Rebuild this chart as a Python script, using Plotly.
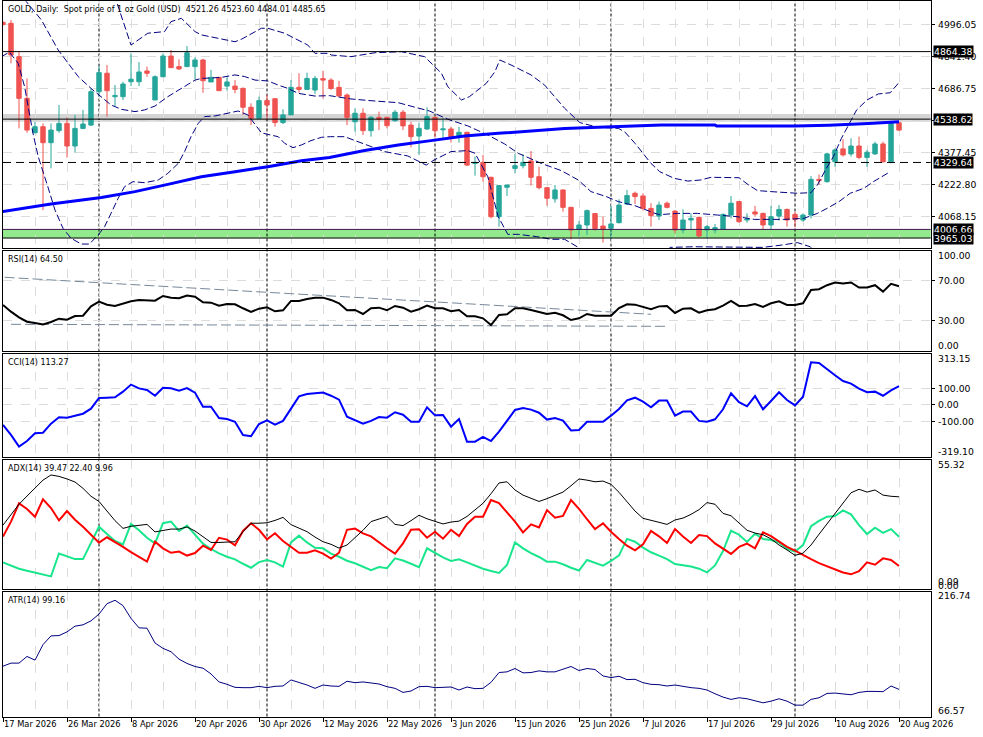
import plotly.graph_objects as go

W, H = 983, 737

# ---------------- data ----------------
date_labels = ["17 Mar 2026", "26 Mar 2026", "8 Apr 2026", "20 Apr 2026", "30 Apr 2026",
               "12 May 2026", "22 May 2026", "3 Jun 2026", "15 Jun 2026", "25 Jun 2026",
               "7 Jul 2026", "17 Jul 2026", "29 Jul 2026", "10 Aug 2026", "20 Aug 2026"]
date_label_idx = [0, 8, 16, 24, 32, 40, 48, 56, 64, 72, 80, 88, 96, 104, 112]
month_sep_idx = [12, 33, 54, 76, 99]
grid_idx = list(range(0, 113, 4))

opens = [5005, 5001, 4840, 4639, 4473, 4502, 4425, 4483, 4518, 4409,
         4494, 4510, 4671, 4760, 4647, 4647, 4719, 4719, 4771, 4631,
         4743, 4843, 4792, 4792, 4792, 4824, 4718, 4740, 4698, 4698,
         4687, 4596, 4543, 4628, 4637, 4522, 4559, 4692, 4682, 4679,
         4734, 4727, 4692, 4655, 4526, 4567, 4483, 4547, 4547, 4531,
         4572, 4510, 4457, 4491, 4547, 4487, 4491, 4454, 4475, 4325,
         4330, 4258, 4068, 4210, 4301, 4314, 4337, 4261, 4208, 4154,
         4197, 4113, 4007, 4028, 4083, 4023, 4012, 4039, 4129, 4181,
         4168, 4108, 4071, 4133, 4095, 4004, 4052, 4065, 4004, 4004,
         4007, 4076, 4141, 4052, 4091, 4084, 4028, 4071, 4103, 4079,
         4052, 4076, 4248, 4237, 4333, 4395, 4371, 4409, 4354, 4371,
         4419, 4333, 4521.26]
highs = [5012, 5017, 4864, 4735, 4526, 4518, 4518, 4607, 4547, 4559,
         4583, 4687, 4795, 4800, 4703, 4719, 4856, 4814, 4792, 4750,
         4856, 4872, 4827, 4891, 4837, 4830, 4776, 4743, 4740, 4727,
         4692, 4615, 4647, 4655, 4640, 4586, 4727, 4760, 4763, 4747,
         4772, 4736, 4724, 4663, 4591, 4591, 4554, 4575, 4551, 4583,
         4583, 4526, 4522, 4596, 4551, 4543, 4502, 4502, 4478, 4358,
         4366, 4261, 4221, 4221, 4371, 4369, 4385, 4309, 4208, 4221,
         4200, 4116, 4047, 4103, 4084, 4068, 4120, 4152, 4197, 4189,
         4181, 4133, 4141, 4141, 4100, 4103, 4084, 4068, 4028, 4033,
         4084, 4168, 4144, 4084, 4120, 4087, 4120, 4124, 4108, 4092,
         4084, 4264, 4272, 4377, 4398, 4441, 4446, 4454, 4390, 4430,
         4430, 4526, 4523.60]
lows = [4990, 4808, 4494, 4473, 4470, 4100, 4301, 4473, 4353, 4377,
        4490, 4505, 4647, 4551, 4602, 4631, 4698, 4698, 4743, 4631,
        4743, 4787, 4776, 4792, 4731, 4666, 4718, 4676, 4676, 4663,
        4559, 4510, 4538, 4538, 4502, 4515, 4559, 4666, 4679, 4660,
        4639, 4679, 4647, 4510, 4478, 4462, 4454, 4486, 4494, 4526,
        4486, 4403, 4366, 4486, 4451, 4446, 4425, 4425, 4313, 4266,
        4237, 4060, 4020, 4168, 4277, 4301, 4218, 4200, 4121, 4136,
        4092, 3959, 3972, 3980, 4001, 3943, 3959, 4036, 4124, 4129,
        4097, 4020, 4052, 4108, 3988, 3988, 4004, 3969, 3964, 3988,
        4004, 4060, 4039, 4039, 4068, 4004, 4004, 4049, 4020, 4017,
        4044, 4060, 4221, 4232, 4309, 4358, 4358, 4345, 4309, 4366,
        4329, 4325, 4484.01]
closes = [4995, 4848, 4639, 4486, 4502, 4425, 4486, 4518, 4409, 4494,
          4515, 4671, 4763, 4676, 4653, 4708, 4731, 4766, 4760, 4743,
          4843, 4787, 4781, 4859, 4824, 4724, 4740, 4676, 4718, 4682,
          4596, 4543, 4628, 4607, 4522, 4559, 4692, 4682, 4735, 4735,
          4727, 4687, 4650, 4547, 4567, 4483, 4547, 4538, 4507, 4572,
          4506, 4454, 4494, 4551, 4483, 4492, 4449, 4475, 4317, 4330,
          4261, 4068, 4218, 4221, 4314, 4330, 4258, 4208, 4157, 4197,
          4113, 4004, 4028, 4097, 4010, 4007, 4033, 4124, 4170, 4165,
          4108, 4073, 4124, 4113, 4004, 4052, 4060, 3975, 4020, 4015,
          4079, 4133, 4044, 4057, 4081, 4028, 4068, 4103, 4052, 4055,
          4076, 4248, 4242, 4371, 4390, 4366, 4409, 4354, 4379, 4419,
          4333, 4522, 4485.65]

# Bollinger bands (bar index, price)
bb_upper_x = [13.9, 16.0, 18.1, 20.2, 21.0, 22.3, 24.0, 24.8, 29.0, 29.8, 32.3, 33.1, 35.2,
              36.5, 38.1, 39.0, 40.8, 41.0, 43.5, 46.5, 49.8, 52.7, 53.5, 54.8, 55.6, 57.3,
              58.3, 60.4, 61.5, 62.1, 63.5, 66.0, 67.7, 70.2, 72.1, 74.4, 76.9, 77.7, 79.0,
              81.0, 82.1, 83.9, 85.6, 87.2, 88.5, 92.0, 93.2, 94.3, 96.0, 99.3, 101.0, 101.8,
              102.8, 103.8, 104.8, 105.7, 106.7, 108.0, 109.4, 110.9, 111.9]
bb_upper_y = [5140, 4896, 4953, 4961, 5009, 5025, 4961, 4945, 4912, 4924, 4977, 4977, 4953,
              4928, 4896, 4856, 4856, 4848, 4840, 4859, 4864, 4840, 4811, 4760, 4695, 4631,
              4647, 4711, 4768, 4824, 4800, 4752, 4703, 4591, 4522, 4499, 4494, 4478, 4422,
              4325, 4285, 4253, 4240, 4245, 4258, 4256, 4221, 4194, 4189, 4181, 4184, 4221,
              4293, 4358, 4446, 4510, 4583, 4631, 4660, 4666, 4711]
bb_mid_x = [2.6, 3.1, 4.8, 6.9, 9.4, 11.0, 12.3, 13.5, 14.8, 16.5, 17.7, 19.0, 20.6, 22.3,
            24.0, 24.8, 27.3, 29.0, 30.2, 31.5, 33.1, 34.4, 35.6, 36.9, 39.0, 40.8, 43.5,
            46.5, 49.4, 51.5, 53.3, 55.6, 58.1, 60.6, 62.7, 64.4, 67.3, 69.8, 71.9, 73.5,
            75.4, 76.9, 79.0, 81.5, 82.1, 84.3, 86.8, 89.3, 91.8, 93.9, 97.6, 100.1, 101.8,
            103.0, 104.5, 105.9, 107.6, 108.8, 110.9]
bb_mid_y = [5120, 5097, 5017, 4872, 4744, 4687, 4647, 4607, 4586, 4575, 4583, 4602, 4647, 4687,
            4727, 4735, 4740, 4752, 4744, 4727, 4723, 4703, 4687, 4663, 4650, 4652, 4636,
            4626, 4618, 4596, 4578, 4538, 4506, 4462, 4419, 4374, 4325, 4290, 4245, 4189,
            4165, 4141, 4121, 4084, 4078, 4084, 4084, 4076, 4068, 4055, 4055, 4060, 4084,
            4108, 4141, 4181, 4205, 4237, 4285]
bb_lower_x = [-0.2, 0.8, 1.9, 2.7, 3.75, 4.4, 5.6, 6.5, 7.5, 8.5, 9.8, 10.8, 11.9, 12.7, 13.5,
              14.4, 15.2, 16.25, 17.7, 19.4, 20.6, 21.9, 22.7, 23.5, 24.4, 25.2, 26.5, 28.1,
              29.4, 30.6, 31.5, 32.3, 33.1, 34.4, 35.2, 36.25, 37.3, 38.5, 39.8, 40.9, 42.7,
              45.2, 47.7, 50.6, 52.9, 53.9, 56.0, 58.1, 59.0, 60.6, 61.9, 63.1, 64.4, 66.7,
              68.5, 70.2, 72.1, 73.0, None, 83.0, 83.4, 86.3, 92.5, 95.0, 97.3, 99.3, 100.9,
              101.5]
bb_lower_y = [4840, 4862, 4808, 4695, 4470, 4358, 4213, 4100, 4012, 3964, 3936, 3936, 3980,
              4020, 4084, 4157, 4213, 4237, 4232, 4245, 4277, 4325, 4382, 4454, 4518, 4551,
              4554, 4567, 4578, 4559, 4515, 4473, 4465, 4454, 4422, 4401, 4414, 4435, 4451,
              4454, 4454, 4419, 4382, 4361, 4317, 4342, 4382, 4387, 4374, 4261, 4068, 3983,
              3983, 3972, 3959, 3959, 3915, 3895, None, 3905, 3920, 3923, 3920, 3920, 3931,
              3943, 3923, 3900]

# long moving average (thick blue line)
ma_x = [-0.2, 6.0, 12.3, 16.5, 20.6, 24.8, 29.0, 33.1, 37.3, 40.8, 45.2, 49.4, 53.5, 57.7,
        61.9, 66.0, 70.2, 74.4, 78.5, 82.3, 89.0, 89.2, 99.0, 103.2, 108.2, 112.0]
ma_y = [4092, 4129, 4161, 4189, 4224, 4261, 4285, 4309, 4338, 4354, 4387, 4414, 4435, 4457,
        4470, 4483, 4494, 4499, 4505, 4510, 4510, 4505, 4505, 4509, 4518, 4526]

levels_solid = [4864.38, 4538.62]
level_dashed = 4329.64
grey_zone = [4526, 4563]
green_zone = [3965.03, 4006.66]
price_ticks = [4996.05, 4841.40, 4686.75, 4532.10, 4377.45, 4222.80, 4068.15]
price_tick_labels = ["4996.05", "4841.40", "4686.75", "", "4377.45", "4222.80", "4068.15"]
price_tags = [4864.38, 4538.62, 4329.64, 4006.66, 3965.03]

rsi = [45.9, 39.2, 33.5, 29.2, 27.9, 26.5, 28.9, 32.2, 31.2, 34.9,
       35.2, 44.5, 49.2, 46.2, 44.9, 47.2, 49.5, 50.9, 50.9, 50.2,
       54.9, 53.2, 52.6, 55.2, 54.2, 48.6, 48.2, 45.2, 46.9, 46.6,
       42.6, 38.9, 42.2, 43.6, 39.6, 40.6, 49.9, 49.9, 51.9, 53.2,
       53.2, 50.9, 47.6, 40.6, 40.9, 36.9, 42.6, 43.2, 40.6, 44.9,
       43.2, 39.2, 41.6, 45.2, 42.6, 42.6, 39.6, 40.9, 34.6, 34.6,
       32.6, 25.9, 35.9, 36.6, 42.6, 42.6, 40.9, 38.9, 36.9, 38.2,
       35.6, 30.9, 32.6, 36.9, 35.2, 35.2, 35.2, 42.9, 46.6, 46.2,
       43.6, 41.6, 44.5, 44.9, 37.9, 42.2, 42.6, 38.2, 40.6, 41.6,
       45.2, 49.9, 44.9, 45.2, 46.9, 43.9, 47.6, 49.5, 45.9, 45.9,
       47.6, 60.9, 61.6, 65.6, 68.3, 67.3, 68.3, 63.3, 63.3, 65.6,
       59.2, 66.9, 64.50]
rsi_trend_hi_x = [0.2, 81.0]
rsi_trend_hi_y = [73.5, 36.6]
rsi_trend_lo_x = [1.0, 83.1]
rsi_trend_lo_y = [26.6, 24.6]

cci = [-124, -185, -256, -222, -175, -171, -116, -77, -79, -67,
       -55, -24, 41, 43, 45, 80, 123, 100, 90, 55,
       104, 100, 86, 102, 74, -12, -12, -81, -87, -104,
       -185, -193, -118, -95, -122, -99, -24, 51, 66, 70,
       74, 55, 31, -73, -95, -116, -99, -75, -79, -46,
       -61, -104, -104, -16, -65, -63, -134, -87, -226, -226,
       -197, -222, -165, -99, -32, -20, -30, -49, -91, -81,
       -97, -157, -155, -104, -104, -104, -67, -26, 27, 43,
       19, -16, 25, 25, -67, -42, -42, -99, -104, -89,
       -28, 70, 15, -10, 53, -28, 23, 76, 29, -4,
       49, 259, 255, 216, 180, 145, 129, 98, 76, 80,
       55, 88, 113.27]

adx = [27.4, 32.0, 36.3, 39.8, 43.2, 46.6, 48.8, 48.2, 47.1, 45.8,
       43.1, 39.7, 37.5, 33.6, 29.3, 26.0, 26.9, 27.3, 27.7, 24.5,
       25.0, 25.7, 25.7, 26.6, 24.9, 22.5, 20.0, 20.0, 20.0, 20.3,
       24.6, 28.2, 28.2, 28.4, 29.4, 30.7, 27.6, 26.0, 24.6, 22.3,
       20.3, 19.2, 17.6, 18.9, 22.0, 25.2, 28.9, 30.1, 31.1, 27.7,
       27.2, 29.3, 31.6, 30.1, 28.9, 27.9, 28.7, 29.1, 31.1, 34.0,
       36.7, 40.8, 45.4, 45.9, 42.4, 40.2, 38.7, 37.5, 38.7, 40.0,
       41.5, 44.2, 47.1, 46.6, 45.9, 46.2, 44.8, 41.4, 37.4, 33.4,
       30.3, 29.6, 28.6, 27.7, 29.6, 30.4, 32.0, 34.0, 37.0, 36.3,
       32.4, 31.4, 28.3, 25.2, 24.0, 23.3, 21.5, 18.9, 16.8, 14.5,
       15.4, 18.9, 23.5, 28.0, 32.4, 37.0, 41.2, 42.7, 41.5, 42.4,
       40.2, 39.7, 39.47]
plus_di = [11.5, 10.2, 8.8, 7.9, 7.2, 6.4, 5.5, 15.3, 14.2, 12.9,
           12.9, 19.6, 26.7, 23.6, 20.6, 19.2, 27.9, 25.2, 22.0, 19.6,
           28.2, 28.9, 24.9, 27.2, 23.5, 19.5, 17.2, 15.3, 13.9, 12.8,
           10.9, 9.2, 11.6, 12.5, 11.5, 9.7, 20.0, 22.9, 20.0, 17.7,
           17.5, 15.2, 13.9, 12.2, 11.1, 9.5, 8.2, 9.5, 9.0, 13.2,
           12.3, 10.9, 9.4, 17.5, 15.6, 13.6, 12.1, 12.8, 11.5, 10.1,
           8.8, 7.8, 7.0, 10.4, 20.0, 17.5, 15.4, 13.8, 11.8, 11.8,
           10.7, 9.2, 8.0, 12.5, 11.2, 10.1, 12.1, 14.5, 21.5, 20.3,
           17.8, 15.8, 14.4, 12.9, 10.8, 10.4, 9.7, 8.8, 7.2, 10.2,
           16.3, 25.0, 23.3, 20.2, 23.7, 21.5, 21.0, 20.0, 17.3, 16.1,
           18.9, 26.9, 29.2, 31.0, 31.3, 33.7, 32.0, 27.4, 23.6, 26.3,
           24.1, 25.7, 22.40]
minus_di = [22.5, 28.9, 36.7, 34.3, 31.0, 38.4, 34.7, 29.4, 33.4, 29.7,
            26.7, 23.3, 19.9, 22.2, 20.3, 18.1, 15.9, 13.9, 11.8, 20.3,
            17.5, 15.6, 16.1, 14.4, 15.5, 18.6, 16.8, 22.0, 21.2, 18.8,
            24.9, 28.2, 25.4, 21.3, 23.9, 20.6, 18.1, 15.6, 15.6, 16.6,
            15.2, 13.1, 15.6, 25.4, 25.9, 23.9, 22.6, 19.9, 17.5, 15.2,
            19.6, 25.4, 25.6, 22.0, 24.6, 21.6, 25.4, 22.7, 27.9, 31.0,
            31.0, 38.1, 36.8, 32.8, 28.9, 24.3, 27.7, 26.4, 33.8, 30.6,
            31.3, 38.1, 34.3, 29.9, 25.7, 28.2, 24.6, 21.5, 18.6, 16.6,
            19.2, 24.9, 22.6, 19.8, 25.7, 22.5, 19.8, 23.2, 22.7, 19.6,
            17.5, 15.1, 18.1, 19.5, 17.5, 24.3, 22.7, 20.3, 18.1, 16.5,
            14.6, 12.9, 11.2, 9.8, 8.7, 7.2, 6.4, 7.7, 11.5, 10.5,
            13.2, 12.5, 9.96]
atr = [127.0, 130.7, 130.7, 138.7, 134.3, 152.9, 163.4, 163.8, 168.2, 175.1,
       176.7, 181.5, 189.6, 202.1, 206.2, 199.7, 184.4, 173.1, 172.6, 154.9,
       148.4, 144.4, 135.5, 130.3, 126.6, 124.6, 117.7, 108.1, 105.2, 101.6,
       101.2, 101.2, 102.8, 101.2, 102.8, 103.2, 110.5, 107.6, 104.4, 100.4,
       104.4, 103.2, 102.8, 108.9, 107.2, 108.1, 107.2, 105.6, 102.4, 100.4,
       95.5, 97.2, 102.4, 102.8, 101.2, 102.0, 102.0, 98.4, 102.0, 100.0,
       100.4, 107.6, 119.4, 120.2, 124.2, 119.0, 119.4, 121.4, 120.2, 120.2,
       123.4, 126.6, 121.8, 124.2, 123.0, 115.3, 113.3, 114.9, 110.9, 111.3,
       107.2, 105.2, 104.8, 103.2, 104.4, 102.4, 101.2, 100.4, 98.4, 93.9,
       89.9, 87.1, 89.1, 87.9, 85.4, 83.0, 85.0, 87.9, 85.0, 80.2,
       80.2, 87.1, 89.1, 94.3, 94.7, 93.5, 92.7, 95.5, 96.7, 96.7,
       96.4, 103.2, 99.16]

idx = list(range(len(closes)))

# ---------------- styling ----------------
BULL = "#26a69a"
BEAR = "#ef5350"
FONT = "DejaVu Sans"
GRID = "#dcdcdc"

X0, X1 = 3 / W, 930.7 / W
XR = [0.0, 115.96]

def yd(top_px, bot_px):
    return [1 - bot_px / H, 1 - top_px / H]

panels = {
    "": dict(dom=yd(1.3, 248.0), rng=[3917.0, 5107.1]),
    "2": dict(dom=yd(250.7, 351.0), rng=[0, 100]),
    "3": dict(dom=yd(353.5, 456.9), rng=[-319.10, 313.15]),
    "4": dict(dom=yd(459.7, 589.3), rng=[0, 55.32]),
    "5": dict(dom=yd(591.5, 716.5), rng=[66.57, 216.74]),
}

fig = go.Figure()

# candles: wicks then bodies
for col, cond in ((BULL, lambda o, c: c >= o), (BEAR, lambda o, c: c < o)):
    xs, ys = [], []
    for i in idx:
        if cond(opens[i], closes[i]):
            xs += [i, i, None]
            ys += [lows[i], highs[i], None]
    fig.add_trace(go.Scatter(x=xs, y=ys, mode="lines", line=dict(color=col, width=1),
                             hoverinfo="skip", showlegend=False, xaxis="x", yaxis="y"))

body_base = [min(o, c) for o, c in zip(opens, closes)]
body_h = [max(abs(c - o), 1.0) for o, c in zip(opens, closes)]
body_col = [BULL if c >= o else BEAR for o, c in zip(opens, closes)]
fig.add_trace(go.Bar(x=idx, y=body_h, base=body_base, width=0.55,
                     marker=dict(color=body_col, line=dict(color=body_col, width=1)),
                     hoverinfo="skip", showlegend=False, xaxis="x", yaxis="y"))

BBC = "#000080"
for bx, by in ((bb_upper_x, bb_upper_y), (bb_mid_x, bb_mid_y), (bb_lower_x, bb_lower_y)):
    fig.add_trace(go.Scatter(x=bx, y=by, mode="lines",
                             line=dict(color=BBC, width=1, dash="7px,3px"),
                             connectgaps=False, hoverinfo="skip", showlegend=False,
                             xaxis="x", yaxis="y"))
fig.add_trace(go.Scatter(x=ma_x, y=ma_y, mode="lines", line=dict(color="#0000ff", width=3),
                         hoverinfo="skip", showlegend=False, xaxis="x", yaxis="y"))

# RSI
for tx, ty in ((rsi_trend_hi_x, rsi_trend_hi_y), (rsi_trend_lo_x, rsi_trend_lo_y)):
    fig.add_trace(go.Scatter(x=tx, y=ty, mode="lines",
                             line=dict(color="#778899", width=1, dash="10px,4px"),
                             hoverinfo="skip", showlegend=False, xaxis="x2", yaxis="y2"))
fig.add_trace(go.Scatter(x=idx, y=rsi, mode="lines", line=dict(color="black", width=2),
                         hoverinfo="skip", showlegend=False, xaxis="x2", yaxis="y2"))
# CCI
fig.add_trace(go.Scatter(x=idx, y=cci, mode="lines", line=dict(color="#0000ff", width=2),
                         hoverinfo="skip", showlegend=False, xaxis="x3", yaxis="y3"))
# ADX
fig.add_trace(go.Scatter(x=idx, y=plus_di, mode="lines", line=dict(color="#19e68c", width=2),
                         hoverinfo="skip", showlegend=False, xaxis="x4", yaxis="y4"))
fig.add_trace(go.Scatter(x=idx, y=minus_di, mode="lines", line=dict(color="#ff0000", width=2),
                         hoverinfo="skip", showlegend=False, xaxis="x4", yaxis="y4"))
fig.add_trace(go.Scatter(x=idx, y=adx, mode="lines", line=dict(color="black", width=1),
                         hoverinfo="skip", showlegend=False, xaxis="x4", yaxis="y4"))
# ATR
fig.add_trace(go.Scatter(x=idx, y=atr, mode="lines", line=dict(color="#000080", width=1),
                         hoverinfo="skip", showlegend=False, xaxis="x5", yaxis="y5"))

# ---------------- axes ----------------
layout = dict(width=W, height=H, margin=dict(l=0, r=0, t=0, b=0),
              paper_bgcolor="white", plot_bgcolor="white", barmode="overlay",
              showlegend=False, hovermode=False)

ytick_map = {"": price_ticks, "2": [30, 70], "3": [-100, 0, 100], "4": [], "5": []}
for k, p in panels.items():
    xa = dict(domain=[X0, X1], range=XR, anchor="y" + k, showline=True, mirror=True,
              linecolor="black", linewidth=1, zeroline=False, showgrid=True,
              gridcolor=GRID, griddash="dash", gridwidth=1, fixedrange=True,
              automargin=False)
    if k == "5":
        xa.update(tickmode="array", tickvals=date_label_idx, ticktext=date_labels,
                  ticks="outside", ticklen=4, tickcolor="black", tickangle=0,
                  ticklabelposition="outside right",
                  tickfont=dict(family=FONT, size=8.3, color="black"),
                  minor=dict(tickmode="array", tickvals=list(range(4, 113, 8)),
                             showgrid=True, gridcolor=GRID, griddash="dash", ticks=""))
    else:
        xa.update(tickmode="array", tickvals=grid_idx, showticklabels=False, ticks="")
    ya = dict(domain=p["dom"], range=p["rng"], anchor="x" + k, side="right", showline=True,
              mirror=True, linecolor="black", linewidth=1, zeroline=False,
              tickmode="array", tickvals=ytick_map[k], ticks="outside", ticklen=3,
              tickcolor="black", showticklabels=False, showgrid=bool(ytick_map[k]),
              gridcolor=GRID, griddash="dash", fixedrange=True, automargin=False)
    layout["xaxis" + k] = xa
    layout["yaxis" + k] = ya

# ---------------- shapes ----------------
shapes = []
shapes.append(dict(type="rect", xref="x domain", yref="y", x0=0, x1=1,
                   y0=grey_zone[0], y1=grey_zone[1], fillcolor="#d4d4d4",
                   line=dict(width=0), layer="below"))
shapes.append(dict(type="rect", xref="x domain", yref="y", x0=0, x1=1,
                   y0=green_zone[0], y1=green_zone[1], fillcolor="#93ea8c",
                   line=dict(width=0), layer="below"))
for s in month_sep_idx:
    shapes.append(dict(type="line", xref="x", yref="paper", x0=s, x1=s,
                       y0=1 - 716.5 / H, y1=1 - 1.3 / H,
                       line=dict(color="black", width=1, dash="3px,2px"), layer="below"))
for lv in levels_solid:
    shapes.append(dict(type="line", xref="x domain", yref="y", x0=0, x1=1, y0=lv, y1=lv,
                       line=dict(color="black", width=1)))
shapes.append(dict(type="line", xref="x domain", yref="y", x0=0, x1=1,
                   y0=level_dashed, y1=level_dashed,
                   line=dict(color="black", width=1, dash="8px,5px")))
shapes.append(dict(type="line", xref="x domain", yref="y", x0=0, x1=1,
                   y0=green_zone[1], y1=green_zone[1], line=dict(color="#3a1450", width=1)))
shapes.append(dict(type="line", xref="x domain", yref="y", x0=0, x1=1,
                   y0=green_zone[0], y1=green_zone[0], line=dict(color="black", width=1)))
layout["shapes"] = shapes

# ---------------- annotations ----------------
ann = []
LX = 936 / W
AX_FONT = dict(family=FONT, size=9.3, color="black")
LBL_FONT = dict(family=FONT, size=8.0, color="black")

def lab(text, y, yref="paper", font=AX_FONT, x=LX, **kw):
    d = dict(text=text, x=x, xref="paper", y=y, yref=yref, xanchor="left",
             yanchor="middle", showarrow=False, font=font)
    d.update(kw)
    ann.append(d)

for v, t in zip(price_ticks, price_tick_labels):
    if t:
        lab(t, v, yref="y")
for v in price_tags:
    lab(f"{v:.2f}", v, yref="y", x=933 / W, bgcolor="black",
        font=dict(family=FONT, size=9.3, color="white"), borderpad=0)

lab("100.00", 1 - 255.7 / H)
lab("70.00", 70, yref="y2")
lab("30.00", 30, yref="y2")
lab("0.00", 1 - 345.3 / H)
lab("313.15", 1 - 358.7 / H)
lab("100.00", 100, yref="y3")
lab("0.00", 0, yref="y3")
lab("-100.00", -100, yref="y3")
lab("-319.10", 1 - 451.0 / H)
lab("55.32", 1 - 464.3 / H)
lab("0.09", 1 - 581.5 / H)
lab("0.00", 1 - 585.5 / H)
lab("216.74", 1 - 595.3 / H)
lab("66.57", 1 - 710.7 / H)

title = (f"GOLD, Daily:\u00a0\u00a0Spot price of 1 oz Gold (USD)\u00a0\u00a0"
         f"{opens[-1]:.2f} {highs[-1]:.2f} {lows[-1]:.2f} {closes[-1]:.2f}")
lab(title, 1 - 9.5 / H, font=LBL_FONT, x=6 / W)
lab(f"RSI(14) {rsi[-1]:.2f}", 1 - 259.5 / H, font=LBL_FONT, x=6 / W)
lab(f"CCI(14) {cci[-1]:.2f}", 1 - 362.5 / H, font=LBL_FONT, x=6 / W)
lab(f"ADX(14) {adx[-1]:.2f} {plus_di[-1]:.2f} {minus_di[-1]:.2f}", 1 - 468.5 / H,
    font=LBL_FONT, x=6 / W)
lab(f"ATR(14) {atr[-1]:.2f}", 1 - 600.5 / H, font=LBL_FONT, x=6 / W)
layout["annotations"] = ann

fig.update_layout(**layout)
fig.write_html("out.html", config={"displayModeBar": False, "staticPlot": True},
               post_script="document.body.style.margin='0';document.body.style.overflow='hidden';")
